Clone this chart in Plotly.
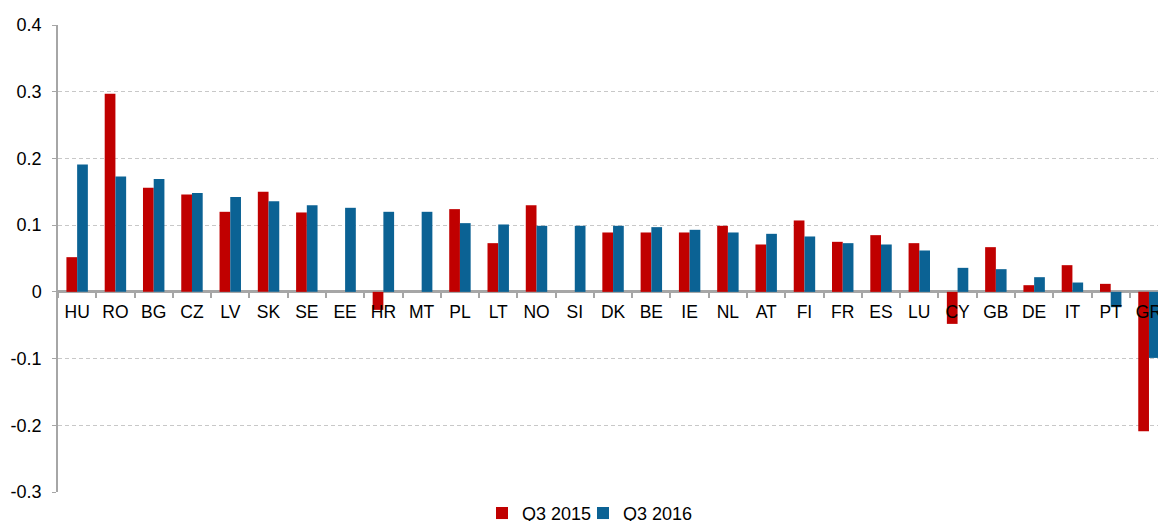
import plotly.graph_objects as go

countries = ["HU", "RO", "BG", "CZ", "LV", "SK", "SE", "EE", "HR", "MT", "PL", "LT", "NO", "SI",
             "DK", "BE", "IE", "NL", "AT", "FI", "FR", "ES", "LU", "CY", "GB", "DE", "IT", "PT", "GR"]
q3_2015 = [0.052, 0.297, 0.156, 0.146, 0.120, 0.150, 0.119, 0.0, -0.027, 0.0, 0.124, 0.073, 0.130, 0.0,
           0.089, 0.089, 0.089, 0.099, 0.071, 0.107, 0.075, 0.085, 0.073, -0.048, 0.067, 0.010, 0.040, 0.012, -0.209]
q3_2016 = [0.191, 0.173, 0.169, 0.148, 0.142, 0.136, 0.130, 0.126, 0.120, 0.120, 0.103, 0.101, 0.099, 0.099,
           0.099, 0.097, 0.093, 0.089, 0.087, 0.083, 0.073, 0.071, 0.062, 0.036, 0.034, 0.022, 0.014, -0.023, -0.099]
series_names = ["Q3 2015", "Q3 2016"]
y_tickvals = [-0.3, -0.2, -0.1, 0, 0.1, 0.2, 0.3, 0.4]
y_ticktext = ["-0.3", "-0.2", "-0.1", "0", "0.1", "0.2", "0.3", "0.4"]

RED = "#C00000"
BLUE = "#0B6294"
FONT = "Liberation Sans, Arial, sans-serif"

fig = go.Figure()
fig.add_trace(go.Bar(x=countries, y=q3_2015, name=series_names[0], marker_color=RED,
                     marker_line_width=0))
fig.add_trace(go.Bar(x=countries, y=q3_2016, name=series_names[1], marker_color=BLUE,
                     marker_line_width=0))
# empty legend spacer so the last legend label is not clipped by the fixed entry width
fig.add_trace(go.Scatter(x=[None], y=[None], mode="markers", name=" ",
                         marker=dict(color="rgba(0,0,0,0)", size=1), hoverinfo="skip"))

W, H = 1158, 521
left, top, bottom = 58, 25, 29
plot_w = W - left
cat_w = 38.28
x_max = -0.5 + plot_w / cat_w
zero_pos = 0.3 / 0.7

fig.update_layout(
    width=W, height=H,
    margin=dict(l=left, r=0, t=top, b=bottom, pad=0, autoexpand=False),
    paper_bgcolor="white", plot_bgcolor="white",
    barmode="group", bargap=0.44, bargroupgap=0,
    font=dict(family=FONT, size=17, color="#000000"),
    showlegend=True,
    legend=dict(orientation="h", x=(497 - 15 - left) / plot_w, xanchor="left", y=-0.0457, yanchor="middle",
                font=dict(size=18, family=FONT), itemwidth=30, traceorder="normal",
                entrywidth=56, entrywidthmode="pixels",
                bgcolor="rgba(0,0,0,0)", itemclick=False),
    xaxis=dict(
        type="category", range=[-0.5, x_max], anchor="free", position=zero_pos,
        showgrid=False, showline=False, zeroline=False, automargin=False,
        ticks="outside", tickson="boundaries", ticklen=5, tickwidth=1.5, tickcolor="#A6A6A6",
        tickfont=dict(size=17.5, family=FONT, color="#000000"), ticklabelstandoff=8,
    ),
    yaxis=dict(
        range=[-0.3, 0.4], tickvals=y_tickvals, ticktext=y_ticktext, automargin=False,
        showgrid=True, gridcolor="#C8C8C8", gridwidth=1, griddash="4px,3px",
        showline=True, linecolor="#A6A6A6", linewidth=1.5,
        zeroline=True, zerolinecolor="#A6A6A6", zerolinewidth=2.5,
        ticks="outside", ticklen=4, tickcolor="#A6A6A6", tickwidth=1,
        tickfont=dict(size=18, family=FONT, color="#000000"), ticklabelstandoff=7,
    ),
)

fig.write_html("out.html", config={"displayModeBar": False},
               post_script="document.body.style.margin='0';document.body.style.overflow='hidden';")
